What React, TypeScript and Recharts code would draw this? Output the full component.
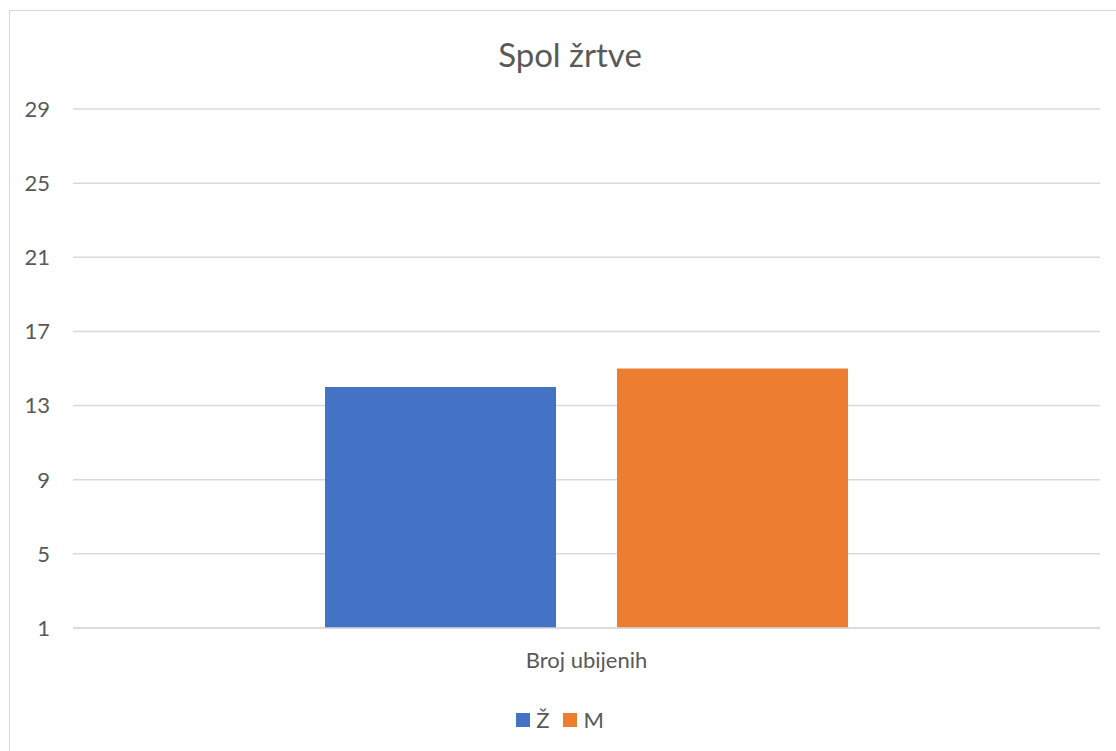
import { Bar, BarChart, CartesianGrid, Legend, XAxis, YAxis } from 'recharts';

const categories = ['Broj ubijenih'];
const zenske = [14];
const muske = [15];
const yTicks = [1, 5, 9, 13, 17, 21, 25, 29];

const data = categories.map((c, i) => ({ name: c, z: zenske[i], m: muske[i] }));

const FONT = 'Lato, "Open Sans", sans-serif';
const TEXT = '#595959';

const legendItems = [
  { label: 'Ž', color: '#4472C4' },
  { label: 'M', color: '#ED7D31' },
];

function ChartLegend() {
  return (
    <div
      style={{
        display: 'flex',
        justifyContent: 'center',
        gap: 14,
        fontFamily: FONT,
        fontSize: 22,
        color: TEXT,
        lineHeight: '25px',
      }}
    >
      {legendItems.map((it) => (
        <span key={it.label} style={{ display: 'flex', alignItems: 'center', gap: 6 }}>
          <span style={{ width: 14, height: 14, background: it.color, display: 'inline-block' }} />
          {it.label}
        </span>
      ))}
    </div>
  );
}

export default function App() {
  return (
    <div
      style={{
        position: 'fixed',
        left: 9,
        top: 10,
        width: 1120,
        height: 760,
        border: '1px solid #d9d9d9',
        background: '#fff',
      }}
    >
      <svg width={1100} height={80} style={{ position: 'absolute', left: 0, top: 0 }}>
        <text x={560} y={56} textAnchor="middle" fontFamily={FONT} fontSize={33} fill={TEXT}>
          Spol žrtve
        </text>
      </svg>
      <BarChart
        width={1100}
        height={740}
        data={data}
        margin={{ top: 98, right: 10, left: 10, bottom: 68 }}
        barSize={231}
        barGap={61}
      >
        <CartesianGrid stroke="#d9d9d9" strokeWidth={1.5} vertical={false} />
        <XAxis
          dataKey="name"
          height={30}
          tick={{ fill: TEXT, fontSize: 22, fontFamily: FONT }}
          axisLine={{ stroke: '#d9d9d9', strokeWidth: 1.5 }}
          tickLine={false}
          tickSize={0}
          tickMargin={24}
        />
        <YAxis
          domain={[1, 29]}
          ticks={yTicks}
          interval={0}
          width={53}
          tick={{ fill: TEXT, fontSize: 22, fontFamily: FONT }}
          axisLine={false}
          tickLine={false}
          tickSize={0}
          tickMargin={23}
        />
        <Legend
          content={() => <ChartLegend />}
          wrapperStyle={{ position: 'absolute', top: 696, left: 0, width: 1100, bottom: 'auto' }}
        />
        <Bar dataKey="z" name="Ž" fill="#4472C4" isAnimationActive={false} />
        <Bar dataKey="m" name="M" fill="#ED7D31" isAnimationActive={false} />
      </BarChart>
    </div>
  );
}
